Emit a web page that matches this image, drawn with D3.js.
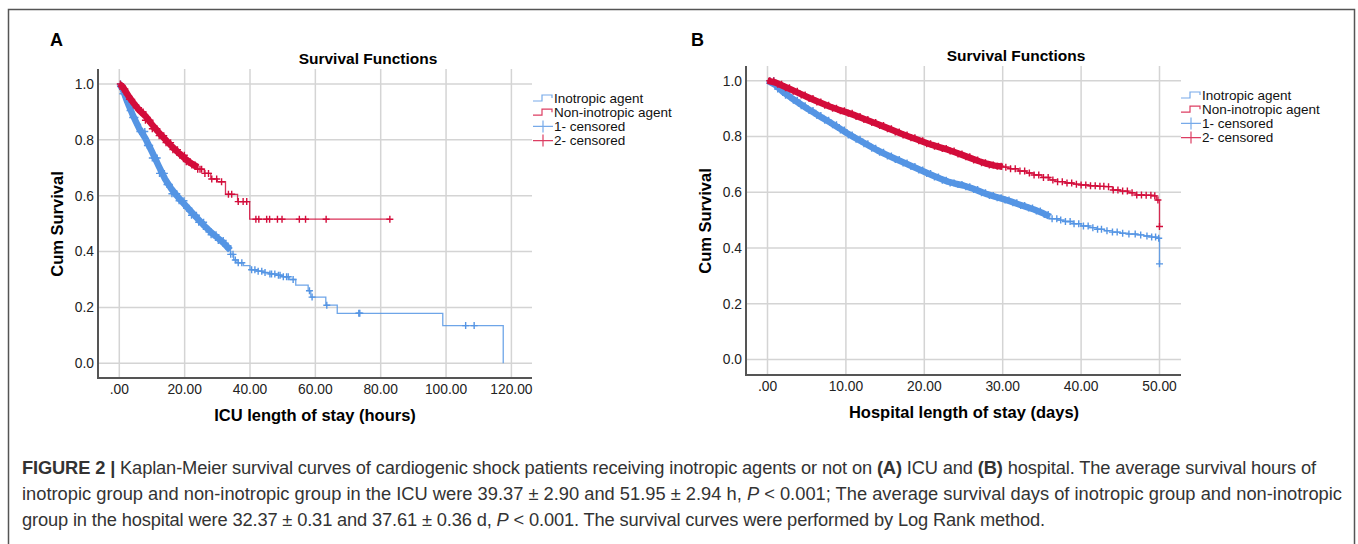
<!DOCTYPE html>
<html>
<head>
<meta charset="utf-8">
<script src="https://cdn.jsdelivr.net/npm/d3@7"></script>
<style>
body { margin: 0; background: #fff; }
svg text { font-family: "Liberation Sans", Arial, sans-serif; }
</style>
</head>
<body>
<svg id="fig" width="1358" height="544"></svg>
<script>
// ---- panel A : ICU length of stay (hours) ----
var aTicksX = [0, 20, 40, 60, 80, 100, 120];
var aInoT = [0, 1, 2, 3, 4, 5, 6, 8, 10, 12, 14, 16, 18, 20, 22, 24, 26, 28, 30, 32, 34, 35, 36, 38, 40, 42, 44, 46, 48, 50, 52, 54, 57.8, 58.6, 63.2, 66.7, 99, 117.5];
var aInoS = [1, 0.965, 0.935, 0.905, 0.88, 0.855, 0.83, 0.78, 0.735, 0.68, 0.64, 0.607, 0.582, 0.555, 0.53, 0.505, 0.48, 0.46, 0.44, 0.42, 0.39, 0.37, 0.36, 0.35, 0.335, 0.33, 0.325, 0.32, 0.315, 0.31, 0.30, 0.28, 0.26, 0.237, 0.208, 0.179, 0.135, 0.0];
var aInoCens = [0.4, 1.1, 1.8, 2.6, 3.3, 4.1, 4.8, 5.6, 6.3, 7.1, 7.8, 8.6, 9.3, 10.1, 10.8, 11.6, 12.3, 13.1, 13.8, 14.6, 15.3, 16.1, 16.8, 17.6, 18.3, 19.1, 19.8, 20.6, 21.3, 22.1, 22.8, 23.6, 24.3, 25.1, 25.8, 26.6, 27.3, 28.1, 28.8, 29.6, 30.3, 31.1, 31.8, 32.6, 33.3, 34.1, 34.8, 35.5,
  36.4, 37.5, 40.5, 41.5, 42.5, 43.6, 44.6, 46.1, 46.6, 47.6, 48.7, 49.2, 50.2, 51.2, 51.7, 53.2, 58.2, 59.0, 63.5, 73.3, 73.6, 106, 108.6];
var aInoBand = [0, 34];   // span where censor marks merge into a solid band
var aNonT = [0, 1, 2, 3, 4, 5, 6, 8, 10, 12, 14, 16, 18, 20, 22, 24, 26, 28, 30, 32.5, 36.2, 39.9, 82.8];
var aNonS = [1, 0.982, 0.962, 0.945, 0.93, 0.915, 0.9, 0.87, 0.84, 0.815, 0.79, 0.765, 0.745, 0.722, 0.71, 0.695, 0.68, 0.66, 0.65, 0.605, 0.579, 0.516, 0.516];
var aNonCens = [0.3, 1.0, 1.7, 2.4, 3.1, 3.8, 4.5, 5.2, 5.9, 6.6, 7.3, 8.0, 8.7, 9.4, 10.1, 10.8, 11.5, 12.2, 12.9, 13.6, 14.3, 15.0, 15.7, 16.4, 17.1, 17.8, 18.5, 19.2, 19.9,
  20.5, 21.1, 21.7, 22.2, 22.7, 23.2, 24.0, 24.7, 25.2, 26.2, 27.3, 28.3, 29.8, 31.3, 33.4, 34.4, 36.4, 37.9, 39.0, 41.8, 42.7, 45.1, 46.0, 48.4, 49.8, 55.1, 57.0, 63.3, 82.8];
var aNonBand = [0, 24];

// ---- panel B : hospital length of stay (days) ----
var bTicksX = [0, 10, 20, 30, 40, 50];
var bInoT = [0, 1, 2, 3, 4, 5, 6, 7, 8, 9, 10, 11, 12, 13, 14, 15, 16, 17, 18, 19, 20, 21, 22, 23, 24, 25, 26, 27, 28, 29, 30, 31, 32, 33, 34, 35, 36, 37, 38, 39, 40, 41, 42, 43, 44, 45, 46, 47, 48, 49, 49.9, 50];
var bInoS = [1, 0.97, 0.948, 0.93, 0.91, 0.893, 0.875, 0.858, 0.842, 0.823, 0.805, 0.79, 0.774, 0.758, 0.743, 0.73, 0.717, 0.705, 0.692, 0.68, 0.667, 0.655, 0.643, 0.633, 0.628, 0.62, 0.61, 0.598, 0.588, 0.58, 0.572, 0.562, 0.552, 0.543, 0.533, 0.52, 0.505, 0.5, 0.495, 0.487, 0.479, 0.473, 0.467, 0.462, 0.457, 0.453, 0.45, 0.447, 0.443, 0.439, 0.435, 0.343];
var bInoCens = [0.3, 0.8, 1.3, 1.8, 2.3, 2.8, 3.3, 3.8, 4.3, 4.8, 5.3, 5.8, 6.3, 6.8, 7.3, 7.8, 8.3, 8.8, 9.3, 9.8, 10.3, 10.8, 11.3, 11.8, 12.3, 12.8, 13.3, 13.8, 14.3, 14.8, 15.3, 15.8, 16.3, 16.8, 17.3, 17.8, 18.3, 18.8, 19.3, 19.8,
  20.3, 20.8, 21.3, 21.8, 22.3, 22.8, 23.3, 23.8, 24.3, 24.8, 25.3, 25.8, 26.3, 26.8, 27.3, 27.8, 28.3, 28.8, 29.3, 29.8, 30.3, 30.8, 31.3, 31.8, 32.3, 32.8, 33.3, 33.8, 34.3, 34.8, 35.3, 35.8,
  36.3, 36.9, 37.4, 38.0, 38.6, 39.1, 39.7, 40.3, 40.9, 41.5, 42.1, 42.6, 43.3, 44.0, 44.6, 45.3, 46.1, 46.9, 47.6, 48.4, 49.0, 49.5, 49.9, 50];
var bInoBand = [0, 36];
var bNonT = [0, 1, 2, 3, 4, 5, 6, 7, 8, 9, 10, 11, 12, 13, 14, 15, 16, 17, 18, 19, 20, 21, 22, 23, 24, 25, 26, 27, 28, 29, 30, 31, 32, 33, 34, 35, 36, 37, 38, 39, 40, 41, 42, 43, 44, 45, 46, 47, 48, 49, 49.6, 50];
var bNonS = [1, 0.987, 0.975, 0.962, 0.949, 0.936, 0.924, 0.912, 0.901, 0.892, 0.883, 0.872, 0.861, 0.85, 0.839, 0.828, 0.816, 0.805, 0.795, 0.785, 0.774, 0.765, 0.757, 0.748, 0.737, 0.727, 0.716, 0.706, 0.698, 0.693, 0.69, 0.684, 0.676, 0.669, 0.662, 0.653, 0.644, 0.638, 0.633, 0.629, 0.626, 0.623, 0.621, 0.62, 0.608, 0.604, 0.598, 0.59, 0.589, 0.587, 0.572, 0.477];
var bNonCens = [0.3, 0.8, 1.3, 1.8, 2.3, 2.8, 3.3, 3.8, 4.3, 4.8, 5.3, 5.8, 6.3, 6.8, 7.3, 7.8, 8.3, 8.8, 9.3, 9.8, 10.3, 10.8, 11.3, 11.8, 12.3, 12.8, 13.3, 13.8, 14.3, 14.8, 15.3, 15.8, 16.3, 16.8, 17.3, 17.8, 18.3, 18.8, 19.3, 19.8,
  20.3, 20.8, 21.3, 21.8, 22.3, 22.8, 23.3, 23.8, 24.3, 24.8, 25.3, 25.8, 26.3, 26.8, 27.3, 27.8, 28.3, 28.8, 29.3, 29.8,
  30.4, 31.0, 31.6, 32.2, 32.8, 33.4, 34.0, 34.6, 35.2, 35.8, 36.4, 37.0, 37.6, 38.2, 38.8, 39.4, 40.0, 40.6, 41.2, 41.8, 42.4, 42.9, 43.5, 44.1, 44.7, 45.3, 45.9, 46.5, 47.1, 47.7, 48.3, 48.9, 49.4, 49.8, 50];
var bNonBand = [0, 30];

var yTicks = [0, 0.2, 0.4, 0.6, 0.8, 1.0];
var legendLabels = ["Inotropic agent", "Non-inotropic agent", "1- censored", "2- censored"];

var blue = "#5595e4", red = "#d30d3b";
var svg = d3.select("#fig");

// outer frame
svg.append("rect").attr("x", 8.5).attr("y", 9.5).attr("width", 1346).attr("height", 560)
  .attr("fill", "none").attr("stroke", "#555").attr("stroke-width", 1.5);

function drawPanel(p) {
  var g = svg.append("g");
  var x = d3.scaleLinear().domain([0, p.xTicks[p.xTicks.length - 1]]).range(p.xRange);
  var y = d3.scaleLinear().domain([0, 1]).range(p.yRange);

  g.append("text").text(p.letter).attr("x", p.letterX).attr("y", 46)
    .style("font-size", "18px").style("font-weight", "bold");
  g.append("text").text("Survival Functions").attr("x", p.titleX).attr("y", p.titleY)
    .attr("text-anchor", "middle").style("font-size", "15.5px").style("font-weight", "bold");

  // grid
  g.selectAll("line.vg").data(p.xTicks).join("line").attr("class", "vg")
    .attr("x1", d => x(d)).attr("x2", d => x(d)).attr("y1", p.top).attr("y2", p.bottom)
    .attr("stroke", "#d4d4d4").attr("stroke-width", 1.5);
  g.selectAll("line.hg").data(yTicks).join("line").attr("class", "hg")
    .attr("x1", p.left).attr("x2", p.right).attr("y1", d => y(d)).attr("y2", d => y(d))
    .attr("stroke", "#d4d4d4").attr("stroke-width", 1.5);

  // axis lines
  g.append("line").attr("x1", p.left).attr("x2", p.left).attr("y1", p.top).attr("y2", p.bottom + 1)
    .attr("stroke", "#555").attr("stroke-width", 2);
  g.append("line").attr("x1", p.left).attr("x2", p.right).attr("y1", p.bottom).attr("y2", p.bottom)
    .attr("stroke", "#555").attr("stroke-width", 2);

  // tick labels
  g.selectAll("text.xt").data(p.xTicks).join("text").attr("class", "xt")
    .attr("x", d => x(d)).attr("y", p.bottom + 16).attr("text-anchor", "middle")
    .style("font-size", "13.8px").style("fill", "#222")
    .text(d => d === 0 ? ".00" : d3.format(".2f")(d));
  g.selectAll("text.yt").data(yTicks).join("text").attr("class", "yt")
    .attr("x", p.left - 4).attr("y", d => y(d)).attr("dy", "0.35em").attr("text-anchor", "end")
    .style("font-size", "13.8px").style("fill", "#222")
    .text(d => d3.format(".1f")(d));

  // axis titles
  g.append("text").text(p.xTitle).attr("x", p.xTitleX).attr("y", p.bottom + 43)
    .attr("text-anchor", "middle").style("font-size", "16.5px").style("font-weight", "bold");
  g.append("text").text("Cum Survival")
    .attr("transform", "translate(" + p.yTitleX + "," + p.yTitleY + ") rotate(-90)")
    .attr("text-anchor", "middle").attr("dy", "0.35em")
    .style("font-size", "16.5px").style("font-weight", "bold");

  // curves, blue under red
  var line = d3.line().x(d => x(d[0])).y(d => y(d[1])).curve(d3.curveStepAfter);
  var smooth = d3.line().x(d => x(d[0])).y(d => y(d[1]));
  var bis = d3.bisector(d => d).right;
  p.series.forEach(function(s) {
    var sg = g.append("g");
    sg.append("path").attr("d", line(d3.zip(s.t, s.s)))
      .attr("fill", "none").attr("stroke", s.color).attr("stroke-width", 1.3).attr("opacity", 0.85);
    // dense censoring: marks merge into a band along the risers of the steps
    var band = [[s.t[0], s.s[0]]];
    for (var i = 1; i < s.t.length && s.t[i] <= s.band[1]; i++) {
      band.push([s.t[i], (s.s[i - 1] + s.s[i]) / 2]);
    }
    sg.append("path").attr("d", smooth(band))
      .attr("fill", "none").attr("stroke", s.color).attr("stroke-width", p.bandWidth)
      .attr("stroke-linejoin", "round");
    sg.selectAll("path.cm").data(s.c).join("path").attr("class", "cm")
      .attr("d", function(t) {
        var cx = x(t), cy = y(s.s[bis(s.t, t) - 1]);
        return "M" + (cx - 3.5) + "," + cy + "H" + (cx + 3.5) + "M" + cx + "," + (cy - 3.5) + "V" + (cy + 3.5);
      })
      .attr("stroke", s.color).attr("stroke-width", 1.4).attr("fill", "none");
  });

  // legend
  var colors = [blue, red, blue, red];
  var lg = g.selectAll("g.lg").data(legendLabels).join("g").attr("class", "lg")
    .attr("transform", (d, i) => "translate(" + p.legX + "," + (p.legY + i * 14.2) + ")");
  lg.append("path").attr("fill", "none").attr("stroke-width", 1.2)
    .attr("stroke", (d, i) => colors[i]).attr("opacity", 0.8)
    .attr("d", (d, i) => i < 2 ? "M0,3H9V-3H19V0" : "M0,0H20M10,-6V6");
  lg.append("text").text(d => d).attr("x", 21).attr("dy", "0.35em")
    .style("font-size", "13.5px").style("fill", "#111");
}

drawPanel({
  letter: "A", letterX: 50, titleX: 368, titleY: 64,
  xTicks: aTicksX, xRange: [119.3, 511.4], yRange: [363.3, 84],
  left: 98, right: 532, top: 69, bottom: 378,
  xTitle: "ICU length of stay (hours)", xTitleX: 315, yTitleX: 57, yTitleY: 224,
  legX: 533, legY: 98, bandWidth: 6.5,
  series: [
    { t: aInoT, s: aInoS, c: aInoCens, band: aInoBand, color: blue },
    { t: aNonT, s: aNonS, c: aNonCens, band: aNonBand, color: red }
  ]
});

drawPanel({
  letter: "B", letterX: 691, titleX: 1016, titleY: 61,
  xTicks: bTicksX, xRange: [767.5, 1159.5], yRange: [359.5, 80.7],
  left: 746, right: 1181, top: 66, bottom: 375,
  xTitle: "Hospital length of stay (days)", xTitleX: 964, yTitleX: 705, yTitleY: 221,
  legX: 1181, legY: 95, bandWidth: 6.5,
  series: [
    { t: bInoT, s: bInoS, c: bInoCens, band: bInoBand, color: blue },
    { t: bNonT, s: bNonS, c: bNonCens, band: bNonBand, color: red }
  ]
});

// caption
var capLines = [
  [["FIGURE 2 | ", "b"], ["Kaplan-Meier survival curves of cardiogenic shock patients receiving inotropic agents or not on ", ""], ["(A)", "b"], [" ICU and ", ""], ["(B)", "b"], [" hospital. The average survival hours of", ""]],
  [["inotropic group and non-inotropic group in the ICU were 39.37 \u00b1 2.90 and 51.95 \u00b1 2.94 h, ", ""], ["P", "i"], [" < 0.001; The average survival days of inotropic group and non-inotropic", ""]],
  [["group in the hospital were 32.37 \u00b1 0.31 and 37.61 \u00b1 0.36 d, ", ""], ["P", "i"], [" < 0.001. The survival curves were performed by Log Rank method.", ""]]
];
var capBase = [474, 500, 526];
var capWidth = [1294, 1320, 1023];
var cap = svg.append("g").style("font-size", "14px").style("fill", "#333");
var capTexts = capLines.map(function(parts, i) {
  var t = cap.append("text").attr("x", 22).attr("y", capBase[i]);
  parts.forEach(function(pt) {
    t.append("tspan").text(pt[0])
      .style("font-weight", pt[1] === "b" ? "bold" : null)
      .style("font-style", pt[1] === "i" ? "italic" : null);
  });
  return t;
});
var w2 = capTexts[1].node().getComputedTextLength();
cap.style("font-size", (14 * 1320 / w2) + "px");
// nudge letter spacing so each line ends where the reference line ends
capTexts.forEach(function(t, i) {
  var n = t.text().length;
  var w = t.node().getComputedTextLength();
  t.style("letter-spacing", ((capWidth[i] - w) / n) + "px");
});
</script>
</body>
</html>
